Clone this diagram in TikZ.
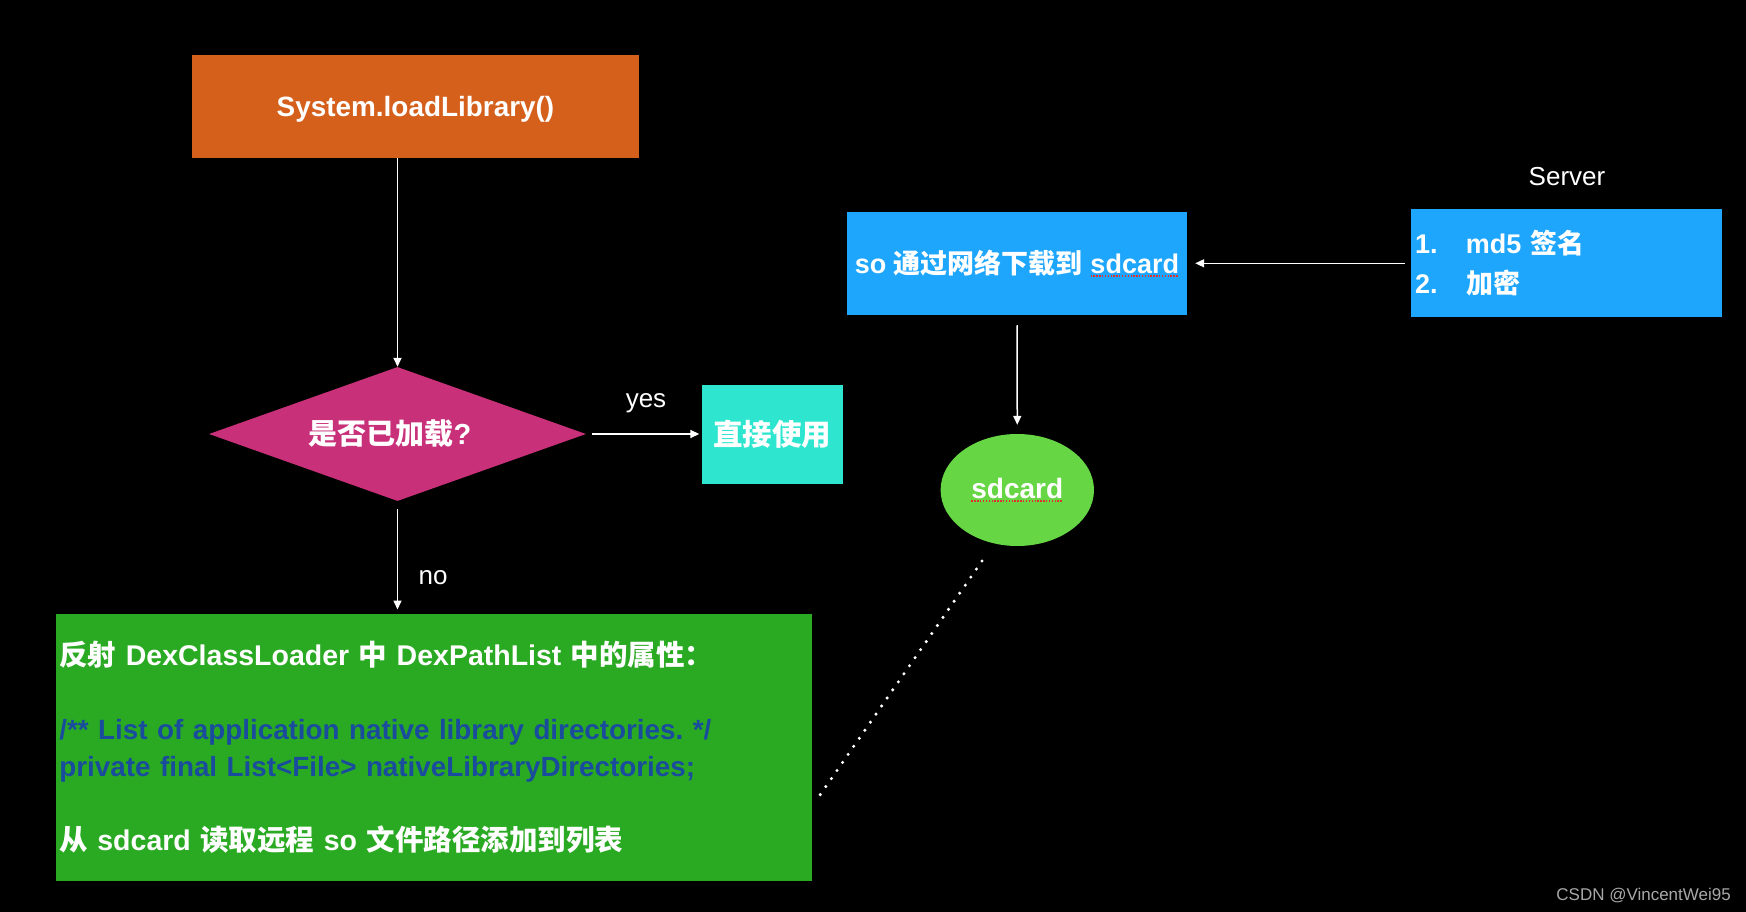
\documentclass[tikz,border=0pt]{standalone}
\usepackage{fontspec}
\setmainfont{Liberation Sans}
\newfontfamily\cjk{Noto Sans CJK SC}
\usetikzlibrary{arrows.meta,shapes.geometric}
\definecolor{orangec}{HTML}{D5601C}
\definecolor{magc}{HTML}{C8307A}
\definecolor{turqc}{HTML}{2EE6D0}
\definecolor{greenc}{HTML}{2AAA22}
\definecolor{bluec}{HTML}{1EA6FD}
\definecolor{ellc}{HTML}{66D645}
\definecolor{codec}{HTML}{1A4C9E}
\definecolor{spellred}{HTML}{E03030}
\definecolor{wmgray}{HTML}{A8A8A8}
\frenchspacing
\newcommand\zh[1]{{\cjk #1}}
\newsavebox\splbox
\newcommand\spl[1]{\sbox\splbox{#1}\rlap{\color{spellred}\lower3.5pt\hbox to\wd\splbox{\xleaders\hbox{\rule{1.4pt}{1.4pt}\kern1.4pt}\hfill}}\usebox\splbox}
\tikzset{
  box/.style={inner sep=0pt, text=white, font=\bfseries\fontsize{27}{32}\selectfont},
  arr/.style={draw=white, line width=1.5pt, -{Triangle[length=9pt,width=8pt]}},
  lbl/.style={text=white, inner sep=0pt, font=\fontsize{26}{30}\selectfont},
}
\begin{document}
\begin{tikzpicture}[x=1pt,y=-1pt]
\useasboundingbox (0,0) rectangle (1746,912);
\fill[black] (0,0) rectangle (1746,912);

\node[box, fill=orangec, minimum width=447pt, minimum height=103pt, text depth=0pt, font=\bfseries\fontsize{27.9}{32}\selectfont] (lib) at (415.5,106.5) {System.loadLibrary()};
\node[box, diamond, fill=magc, minimum width=377pt, minimum height=134pt, aspect=2.8, font=\bfseries\fontsize{29}{32}\selectfont] (dia) at (397.5,434) {\zh{是否已加载}?\kern15pt\null};
\node[box, fill=turqc, minimum width=141.5pt, minimum height=99pt, font=\bfseries\fontsize{29.5}{32}\selectfont] (use) at (772.25,434.5) {\zh{直接使用}};
\node[box, fill=greenc, anchor=north west, minimum height=267.3pt, text width=749pt, inner xsep=3.5pt, align=left, font=\bfseries\fontsize{28.5}{37}\selectfont] (list) at (55.7,613.5)
 {\zh{反射} DexClassLoader \zh{中} DexPathList \zh{中的属性：}\\[37pt]
  {\fontsize{27.8}{37}\selectfont\color{codec}/** List of application native library directories. */}\\
  {\fontsize{27.8}{37}\selectfont\color{codec}private final List<File> nativeLibraryDirectories;}\\[37pt]
  \zh{从} sdcard \zh{读取远程} so \zh{文件路径添加到列表}};

\node[box, fill=bluec, minimum width=340pt, minimum height=103.5pt] (net) at (1017,263.3) {so \zh{通过网络下载到} \spl{sdcard}};
\node[box, fill=bluec, minimum width=310.5pt, minimum height=108pt, text width=302.5pt, inner xsep=4pt, align=left, font=\bfseries\fontsize{27}{40}\selectfont] (srv) at (1566.25,263.3)
 {\makebox[51pt][l]{1.}md5 \zh{签名}\\ \makebox[51pt][l]{2.}\zh{加密}};
\node[lbl] (srvlbl) at (1567,177) {Server};
\node[box, ellipse, fill=ellc, minimum width=153.4pt, minimum height=112pt, font=\bfseries\fontsize{28}{32}\selectfont] (sd) at (1017.3,490) {\spl{sdcard}};

\node[lbl] (yes) at (646,403) {yes};
\node[lbl] (no) at (433,578) {no};
\node[inner sep=0pt, anchor=east, text=wmgray, font=\fontsize{17}{20}\selectfont] (wm) at (1731,896) {CSDN @VincentWei95};

\draw[arr] (dia.north |- lib.south) -- (dia.north);
\draw[arr, shorten <=6pt, shorten >=2pt] (dia.east) -- (dia.east -| use.west);
\draw[arr, shorten <=8pt, shorten >=4pt] (dia.south) -- (dia.south |- list.north);
\draw[arr, shorten <=6pt, shorten >=8pt] (srv.west) -- (net.east);
\draw[arr, shorten <=10pt, shorten >=9pt] (net.south) -- (sd.north);

\coordinate (d1) at (982,561);
\coordinate (d2) at (820,795);
\draw[white, line width=3.4pt, line cap=round, dash pattern=on 0pt off 9.8pt] (d1) -- (d2);
\end{tikzpicture}
\end{document}
